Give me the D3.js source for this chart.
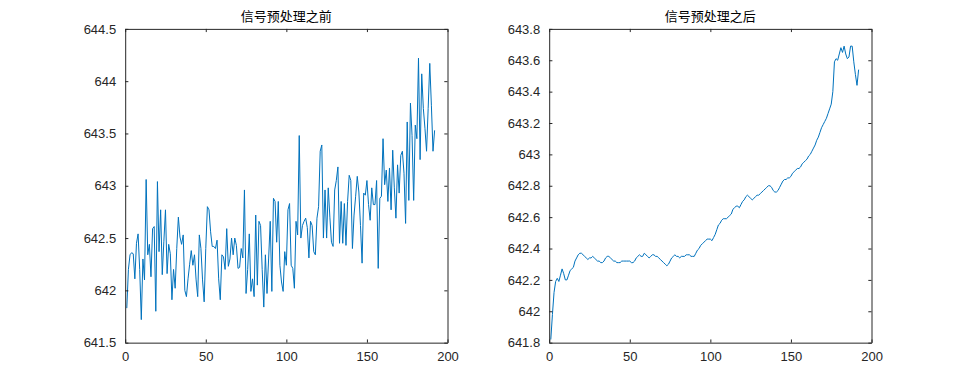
<!DOCTYPE html>
<html>
<head>
<meta charset="utf-8">
<script src="https://cdn.jsdelivr.net/npm/d3@7"></script>
<style>
  body { margin: 0; background: #fff; }
  svg { display: block; }
  .tick text { font-family: "Liberation Sans", Arial, sans-serif; font-size: 13px; fill: #262626; }
  .ttl { font-family: "Noto Sans CJK SC", sans-serif; font-size: 13px; fill: #000; }
</style>
</head>
<body>
<svg width="963" height="385"></svg>
<script>
// raw signal (before preprocessing), sample 1..192
const rawSignal = [
  641.83, 642.20, 642.34, 642.36, 642.35, 642.11, 642.45, 642.54, 642.20, 641.72,
  642.30, 642.10, 643.06, 642.34, 642.44, 642.13, 642.59, 642.61, 641.80, 643.04,
  642.37, 642.77, 642.15, 642.47, 642.77, 642.16, 642.44, 642.35, 641.91, 642.20,
  642.02, 642.40, 642.70, 642.51, 642.44, 642.53, 642.00, 641.94, 642.11, 642.25,
  642.38, 642.24, 642.34, 642.10, 641.94, 642.53, 642.40, 642.10, 641.89, 642.40,
  642.80, 642.77, 642.56, 642.42, 642.42, 642.40, 642.48, 642.11, 641.91, 642.34,
  642.32, 642.20, 642.59, 642.23, 642.30, 642.50, 642.34, 642.50, 642.43, 642.21,
  642.22, 642.40, 642.31, 642.96, 641.97, 642.20, 642.54, 641.99, 642.11, 641.94,
  642.72, 642.05, 642.66, 642.62, 642.20, 641.84, 642.34, 641.97, 642.30, 642.66,
  641.99, 642.88, 642.85, 642.46, 642.85, 642.24, 642.08, 641.99, 642.37, 642.24,
  642.77, 642.83, 642.24, 642.21, 642.02, 642.66, 642.53, 643.48, 642.50, 642.62,
  642.66, 642.69, 642.60, 642.31, 642.66, 642.62, 642.37, 642.34, 642.69, 642.80,
  643.33, 643.39, 642.50, 642.96, 642.50, 642.98, 642.70, 642.46, 642.42, 642.96,
  643.05, 643.18, 642.45, 642.85, 642.45, 642.83, 642.43, 642.85, 643.10, 643.05,
  642.40, 642.72, 642.90, 643.09, 642.94, 642.62, 642.26, 642.93, 642.91, 643.05,
  642.82, 642.67, 642.98, 642.82, 642.82, 643.05, 642.21, 642.88, 642.90, 643.45,
  643.01, 643.15, 642.85, 643.17, 642.77, 643.34, 642.98, 642.69, 643.20, 642.93,
  643.29, 643.33, 643.12, 642.64, 643.61, 642.86, 643.79, 643.48, 642.86, 643.58,
  643.45, 644.22, 643.25, 644.07, 643.74, 643.55, 643.33, 643.74, 644.17, 643.77,
  643.33, 643.53
];

// processed signal (after preprocessing)
const cleanSignal = [
  641.82, 641.98, 642.12, 642.19, 642.21, 642.19, 642.23, 642.27, 642.24, 642.20,
  642.20, 642.23, 642.26, 642.27, 642.28, 642.32, 642.34, 642.36, 642.37, 642.37,
  642.36, 642.35, 642.34, 642.33, 642.34, 642.34, 642.35, 642.34, 642.33, 642.32,
  642.32, 642.31, 642.31, 642.32, 642.34, 642.35, 642.35, 642.34, 642.33, 642.32,
  642.32, 642.31, 642.31, 642.31, 642.32, 642.32, 642.32, 642.32, 642.32, 642.32,
  642.31, 642.31, 642.32, 642.34, 642.35, 642.36, 642.35, 642.35, 642.37, 642.36,
  642.35, 642.34, 642.35, 642.36, 642.36, 642.35, 642.35, 642.34, 642.33, 642.32,
  642.31, 642.30, 642.29, 642.30, 642.32, 642.34, 642.35, 642.36, 642.35, 642.35,
  642.34, 642.35, 642.35, 642.35, 642.36, 642.36, 642.36, 642.35, 642.35, 642.35,
  642.37, 642.39, 642.40, 642.42, 642.43, 642.44, 642.45, 642.46, 642.46, 642.46,
  642.45, 642.47, 642.49, 642.52, 642.55, 642.56, 642.58, 642.59, 642.59, 642.59,
  642.60, 642.61, 642.62, 642.65, 642.66, 642.67, 642.67, 642.66, 642.68, 642.70,
  642.71, 642.73, 642.74, 642.73, 642.72, 642.71, 642.72, 642.73, 642.74, 642.74,
  642.75, 642.76, 642.77, 642.78, 642.79, 642.80, 642.80, 642.79, 642.77, 642.76,
  642.76, 642.77, 642.79, 642.81, 642.83, 642.84, 642.84, 642.85, 642.85, 642.86,
  642.88, 642.89, 642.90, 642.91, 642.91, 642.92, 642.94, 642.95, 642.96, 642.97,
  642.99, 643.00, 643.02, 643.04, 643.06, 643.09, 643.11, 643.14, 643.17, 643.19,
  643.21, 643.23, 643.26, 643.29, 643.32, 643.40, 643.59, 643.61, 643.60, 643.64,
  643.68, 643.65, 643.69, 643.64, 643.61, 643.62, 643.69, 643.69, 643.59, 643.51,
  643.44, 643.54
];

const titles = ["信号预处理之前", "信号预处理之后"];
const xTicks = [0, 50, 100, 150, 200];
const yTicksLeft = [641.5, 642, 642.5, 643, 643.5, 644, 644.5];
const yTicksRight = [641.8, 642, 642.2, 642.4, 642.6, 642.8, 643, 643.2, 643.4, 643.6, 643.8];

const svg = d3.select("svg");
const W = 963, H = 385;
const lineColor = "#0072BD", axisColor = "#262626";

const panels = [
  { data: rawSignal, yTicks: yTicksLeft, left: 0.13 * W, title: titles[0] },
  { data: cleanSignal, yTicks: yTicksRight, left: 0.5703 * W, title: titles[1] }
];

const boxW = 0.3347 * W, boxTop = H - (0.11 + 0.815) * H, boxBot = H - 0.11 * H;

panels.forEach(p => {
  const x = d3.scaleLinear().domain([0, 200]).range([p.left, p.left + boxW]);
  const y = d3.scaleLinear().domain(d3.extent(p.yTicks)).range([boxBot, boxTop]);
  const g = svg.append("g");

  // data line first so the box sits on top
  g.append("path")
    .datum(p.data)
    .attr("fill", "none")
    .attr("stroke", lineColor)
    .attr("stroke-width", 1)
    .attr("d", d3.line().x((d, i) => x(i + 1)).y(d => y(d)));

  const fmt = v => String(+v.toFixed(1));

  const xa = g.append("g").attr("transform", `translate(0,${boxBot})`)
    .call(d3.axisBottom(x).tickValues(xTicks).tickSizeInner(-3.2).tickSizeOuter(0).tickPadding(9).tickFormat(fmt));
  const xt = g.append("g").attr("transform", `translate(0,${boxTop})`)
    .call(d3.axisTop(x).tickValues(xTicks).tickSizeInner(-3.2).tickSizeOuter(0).tickFormat(""));
  const ya = g.append("g").attr("transform", `translate(${p.left},0)`)
    .call(d3.axisLeft(y).tickValues(p.yTicks).tickSizeInner(-3.2).tickSizeOuter(0).tickPadding(9).tickFormat(fmt));
  const yr = g.append("g").attr("transform", `translate(${p.left + boxW},0)`)
    .call(d3.axisRight(y).tickValues(p.yTicks).tickSizeInner(-3.2).tickSizeOuter(0).tickFormat(""));

  [xa, xt, ya, yr].forEach(a => {
    a.select(".domain").attr("stroke", axisColor);
    a.selectAll(".tick line").attr("stroke", axisColor);
  });

  g.append("text")
    .attr("class", "ttl")
    .attr("x", p.left + boxW / 2)
    .attr("y", boxTop - 8)
    .attr("text-anchor", "middle")
    .text(p.title);
});
</script>
</body>
</html>
